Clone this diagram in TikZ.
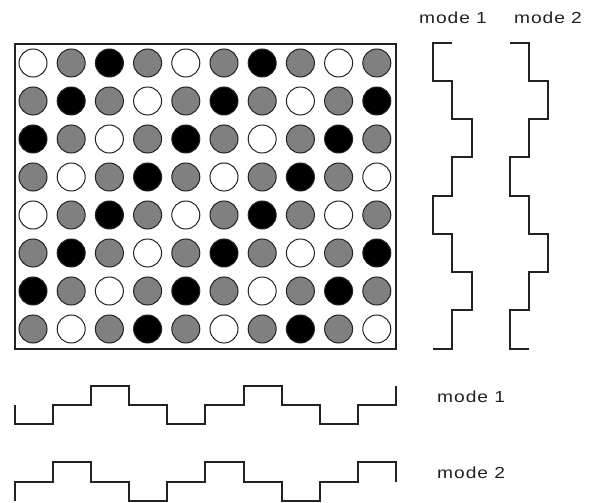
\documentclass[tikz,border=0pt]{standalone}
\usepackage{fontspec}
\newfontfamily\labfont[FakeStretch=1.2,LetterSpace=6]{Liberation Sans}
\definecolor{ink}{HTML}{222222}
\definecolor{midgray}{HTML}{808080}
\tikzset{
  dot/.style={circle,draw=ink,line width=1pt,minimum size=28pt,inner sep=0pt},
  dotW/.style={dot,fill=white},
  dotG/.style={dot,fill=midgray},
  dotB/.style={dot,fill=black},
  wave/.style={draw=ink,line width=1.8pt,line join=miter},
  frame/.style={draw=ink,line width=1.8pt},
  lab/.style={font=\labfont\fontsize{16}{18}\selectfont,text=ink,inner sep=0pt}
}
\begin{document}
\begin{tikzpicture}[x=1pt,y=-1pt]
\useasboundingbox (0,0) rectangle (590,503);
\fill[white] (0,0) rectangle (590,503);
% frame
\draw[frame] (15,44) rectangle (396,349);
% circles
\foreach \r in {0,...,7}{
  \foreach \c in {0,...,9}{
    \pgfmathtruncatemacro{\k}{mod(\r+\c,4)}
    \ifcase\k
      \node[dotW] (c-\r-\c) at ({33+38.2*\c},{63+38*\r}) {};
    \or
      \node[dotG] (c-\r-\c) at ({33+38.2*\c},{63+38*\r}) {};
    \or
      \node[dotB] (c-\r-\c) at ({33+38.2*\c},{63+38*\r}) {};
    \else
      \node[dotG] (c-\r-\c) at ({33+38.2*\c},{63+38*\r}) {};
    \fi
  }
}
% vertical waveforms
\draw[wave] (452,43)--(433,43)--(433,81)--(452,81)--(452,119)--(472,119)--(472,157)--(452,157)--(452,196)--(433,196)--(433,234)--(452,234)--(452,272)--(472,272)--(472,310)--(452,310)--(452,349)--(433,349);
\draw[wave] (510,43)--(529,43)--(529,81)--(548,81)--(548,119)--(529,119)--(529,157)--(510,157)--(510,196)--(529,196)--(529,234)--(548,234)--(548,272)--(529,272)--(529,310)--(510,310)--(510,349)--(529,349);
% horizontal waveforms
\draw[wave] (15,405)--(15,424)--(53,424)--(53,405)--(91,405)--(91,386)--(129,386)--(129,405)--(167,405)--(167,424)--(205,424)--(205,405)--(244,405)--(244,386)--(282,386)--(282,405)--(320,405)--(320,424)--(358,424)--(358,405)--(396,405)--(396,386);
\draw[wave] (15,501)--(15,482)--(53,482)--(53,462)--(91,462)--(91,482)--(129,482)--(129,501)--(167,501)--(167,482)--(205,482)--(205,462)--(244,462)--(244,482)--(282,482)--(282,501)--(320,501)--(320,482)--(358,482)--(358,462)--(396,462)--(396,482);
% labels
\node[lab] (t1) at (453,18) {mode 1};
\node[lab] (t2) at (548,18) {mode 2};
\node[lab,anchor=west] (r1) at (437,397) {mode 1};
\node[lab,anchor=west] (r2) at (437,473) {mode 2};
\end{tikzpicture}
\end{document}
